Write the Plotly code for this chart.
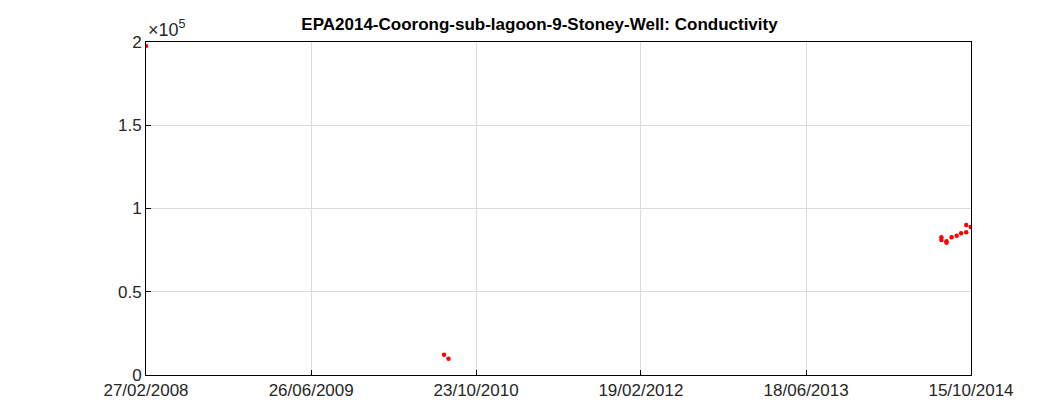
import plotly.graph_objects as go

dates = ["2008-02-27", "2010-07-21", "2010-08-03",
         "2014-07-20", "2014-07-20", "2014-08-04", "2014-08-04", "2014-08-19",
         "2014-09-03", "2014-09-16", "2014-10-01", "2014-10-01", "2014-10-14"]
conductivity = [197600, 12200, 9800,
                82700, 81100, 80300, 79500, 82700,
                83700, 85100, 85700, 90100, 88900]

tick_dates = ["2008-02-27", "2009-06-26", "2010-10-23", "2012-02-19", "2013-06-18", "2014-10-15"]
tick_labels = ["27/02/2008", "26/06/2009", "23/10/2010", "19/02/2012", "18/06/2013", "15/10/2014"]
y_ticks = [0, 50000, 100000, 150000, 200000]
y_labels = ["0", "0.5", "1", "1.5", "2"]

fig = go.Figure(go.Scatter(x=dates, y=conductivity, mode="markers",
                           marker=dict(color="red", size=4.5)))

axis_style = dict(showline=True, linecolor="black", linewidth=1, mirror=True,
                  showgrid=True, gridcolor="#dcdcdc", zeroline=False,
                  ticks="inside", ticklen=5, tickcolor="black", automargin=False,
                  tickfont=dict(size=17, color="#262626"))
fig.update_xaxes(range=["2008-02-27", "2014-10-15"], tickvals=tick_dates,
                 ticktext=tick_labels, **axis_style)
fig.update_yaxes(range=[0, 200000], tickvals=y_ticks, ticktext=y_labels, **axis_style)

fig.update_layout(
    width=1063, height=413,
    margin=dict(l=138, r=100, t=34, b=46),
    plot_bgcolor="white", paper_bgcolor="white",
    font=dict(family="Liberation Sans, Arial, sans-serif"),
    showlegend=False,
    title=dict(text="<b>EPA2014-Coorong-sub-lagoon-9-Stoney-Well: Conductivity</b>",
               x=0.5, xanchor="center", y=0.96, yanchor="middle",
               font=dict(size=17, color="black")),
    annotations=[dict(text="×10<sup>5</sup>", xref="paper", yref="paper",
                      x=0, y=1, xanchor="left", yanchor="bottom",
                      showarrow=False, font=dict(size=18, color="#262626"))],
)

fig.write_html("out.html")
